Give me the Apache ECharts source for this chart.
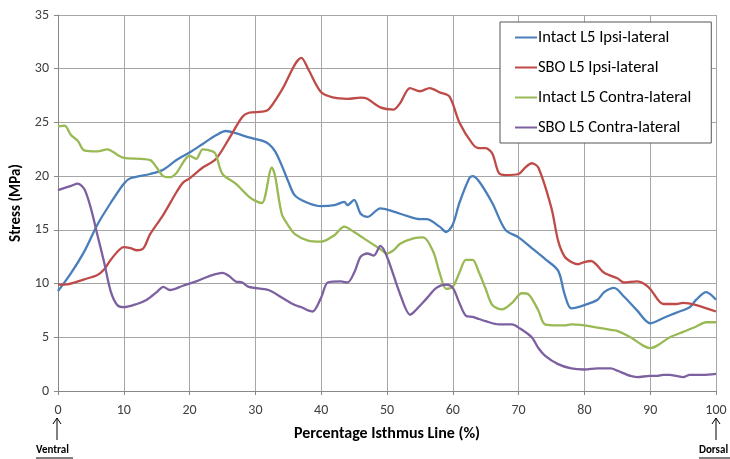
<!DOCTYPE html>
<html>
<head>
    <meta charset="utf-8">
    <title>Stress along isthmus line</title>
    <script src="https://cdn.jsdelivr.net/npm/echarts@6/dist/echarts.min.js"></script>
</head>
<body style="margin:0">
    <div id="c" style="width:730px;height:459px;"></div>
    <script>
        // percentage along isthmus line / stress (MPa)
        var intactIpsiX = [0, 2, 4, 6, 8, 10, 11, 14, 16, 18, 20, 22, 24, 25.5, 27, 29, 31, 32, 33, 34, 35, 36, 38, 40, 42, 43.5, 44, 45, 46, 47, 49, 51, 53, 55, 56, 58, 59, 60, 61, 62.5, 63, 64, 66, 68, 70, 72, 74, 76, 77, 78, 80, 82, 83, 84.5, 86, 88, 90, 92, 94, 96, 97, 98.5, 100];
        var intactIpsiY = [9.3, 11, 13, 15.5, 17.5, 19.3, 19.8, 20.2, 20.6, 21.5, 22.2, 23, 23.8, 24.2, 24, 23.6, 23.3, 23, 22.3, 21, 19.5, 18.2, 17.5, 17.2, 17.3, 17.6, 17.3, 17.8, 16.5, 16.2, 17, 16.7, 16.3, 16, 16, 15.3, 14.8, 15.5, 17.5, 19.8, 20, 19.5, 17.5, 15, 14.3, 13.3, 12.3, 11.2, 9, 7.7, 8, 8.5, 9.2, 9.6, 8.8, 7.5, 6.3, 6.8, 7.3, 7.8, 8.5, 9.2, 8.5];

        var sboIpsiX = [0, 1, 4, 6, 7, 8, 10, 11, 12, 13, 14, 16, 18, 19, 20, 22, 24, 26, 28, 29, 31, 32, 34, 37, 38, 40, 42, 44, 46, 47, 49, 51, 52, 53.5, 55, 56.5, 58, 59.5, 61, 63, 64, 65, 66, 67, 68, 70, 71, 72, 73, 75, 76, 77, 78, 79, 80, 81, 83, 85, 86, 88, 89, 90, 92, 94, 95, 97, 100];
        var sboIpsiY = [9.9, 9.9, 10.4, 10.8, 11.3, 12.2, 13.4, 13.3, 13.1, 13.3, 14.6, 16.4, 18.5, 19.4, 19.8, 20.8, 21.6, 23.5, 25.5, 25.9, 26, 26.2, 28, 31, 30, 27.8, 27.3, 27.2, 27.3, 27.2, 26.4, 26.2, 26.8, 28.2, 27.9, 28.2, 27.8, 27.4, 25, 23, 22.6, 22.6, 22.1, 20.3, 20.1, 20.2, 20.8, 21.2, 20.8, 17, 14, 12.5, 12, 11.8, 12, 12.1, 11, 10.5, 10.1, 10.2, 10, 9.5, 8.1, 8.1, 8.2, 8, 7.4];

        var intactContraX = [0, 1, 2, 3, 4, 6, 7.5, 9, 10, 14, 15, 16, 17, 18, 20, 21, 22, 23.5, 24, 25, 27, 29, 30, 31, 32.5, 33, 34, 35, 36, 38, 40, 42, 43.5, 45, 47, 49, 50, 51, 52, 54, 55.5, 57, 58, 59, 60, 61, 62, 63, 64, 65, 66, 67.5, 69, 70.5, 71.5, 73, 74, 76, 77, 78, 80, 82, 84, 85, 87, 89, 90, 91, 93, 95, 97, 98.5, 100];
        var intactContraY = [24.6, 24.7, 23.8, 23.3, 22.4, 22.3, 22.5, 22, 21.7, 21.5, 20.8, 20, 19.9, 20.3, 21.9, 21.6, 22.5, 22.3, 22, 20.2, 19.3, 18.1, 17.7, 17.5, 20.8, 20, 16.5, 15.4, 14.6, 14, 13.9, 14.5, 15.3, 14.8, 14, 13.2, 12.8, 13.1, 13.7, 14.2, 14.3, 13, 11, 9.5, 9.7, 11, 12.2, 12.2, 11, 9.5, 8, 7.6, 8.2, 9.1, 9, 7.5, 6.2, 6.1, 6.1, 6.2, 6.1, 5.9, 5.7, 5.6, 5, 4.2, 4, 4.2, 5, 5.5, 6, 6.4, 6.4];

        var sboContraX = [0, 2, 3, 4, 5, 6, 7, 8, 9, 10, 12, 13.5, 15, 16, 17, 19, 21, 23, 25, 26, 27, 28, 29, 32, 34, 36, 37, 38, 38.7, 40, 41, 43, 44, 45, 46, 47, 48, 49, 50, 52, 53.5, 54, 56, 57.5, 59, 60, 61, 62, 63, 64, 65, 67, 69, 70, 72, 73, 74, 76, 78, 80, 82, 84, 85, 87, 88, 90, 91, 92, 93, 94, 95, 96, 97, 98, 100];
        var sboContraY = [18.7, 19.1, 19.3, 18.8, 17, 14.5, 12, 9.3, 8, 7.8, 8.1, 8.5, 9.2, 9.7, 9.4, 9.8, 10.2, 10.7, 11, 10.7, 10.2, 10.1, 9.7, 9.4, 8.7, 8, 7.8, 7.5, 7.4, 8.7, 10.1, 10.2, 10.1, 11, 12.5, 12.8, 12.6, 13.5, 12.5, 9, 7.1, 7.3, 8.6, 9.6, 9.9, 9.6, 8.2, 7, 6.9, 6.7, 6.5, 6.2, 6.2, 5.9, 5, 4, 3.3, 2.5, 2.1, 2, 2.1, 2.1, 1.9, 1.4, 1.3, 1.4, 1.4, 1.5, 1.5, 1.4, 1.3, 1.5, 1.5, 1.5, 1.6];

        var seriesNames = ['Intact L5 Ipsi-lateral', 'SBO L5 Ipsi-lateral', 'Intact L5 Contra-lateral', 'SBO L5 Contra-lateral'];
        var seriesColors = ['#4a7ebb', '#be4b48', '#98b954', '#7d60a0'];

        function pairs(xs, ys) {
            return xs.map(function (x, i) { return [x, ys[i]]; });
        }
        var allData = [
            pairs(intactIpsiX, intactIpsiY),
            pairs(sboIpsiX, sboIpsiY),
            pairs(intactContraX, intactContraY),
            pairs(sboContraX, sboContraY)
        ];

        // little up-arrow under an end of the x axis
        function arrow(x) {
            return [
                { type: 'line', shape: { x1: x, y1: 418, x2: x, y2: 440 }, style: { stroke: '#000', lineWidth: 1 } },
                { type: 'polyline', shape: { points: [[x - 4, 424], [x, 418], [x + 4, 424]] }, style: { stroke: '#000', lineWidth: 1, fill: null } }
            ];
        }

        var myChart = echarts.init(document.getElementById('c'));
        var font = 'Carlito, Lato, sans-serif';
        var option = {
            animation: false,
            color: seriesColors,
            grid: { left: 58, right: 14, top: 15, bottom: 68, containLabel: false },
            legend: {
                orient: 'vertical',
                left: 500, top: 22,
                padding: [7, 20, 7, 15],
                itemGap: 13,
                itemWidth: 22,
                itemHeight: 2,
                icon: 'rect',
                borderColor: '#555',
                borderWidth: 1,
                backgroundColor: '#fff',
                textStyle: { fontSize: 16.5, lineHeight: 16, color: '#000', fontFamily: font, padding: [0, 0, 0, -4] },
                data: seriesNames
            },
            xAxis: {
                type: 'value',
                min: 0, max: 100, interval: 10,
                name: 'Percentage Isthmus Line (%)',
                nameLocation: 'middle',
                nameGap: 35,
                nameTextStyle: { fontSize: 16, fontWeight: 'bold', color: '#000', fontFamily: font },
                axisLine: { lineStyle: { color: '#888' } },
                axisTick: { show: true, length: 4, lineStyle: { color: '#888' } },
                axisLabel: { fontSize: 14, color: '#404040', margin: 12, fontFamily: font },
                splitLine: { lineStyle: { color: '#a6a6a6' } }
            },
            yAxis: {
                type: 'value',
                min: 0, max: 35, interval: 5,
                name: 'Stress (MPa)',
                nameLocation: 'middle',
                nameGap: 33,
                nameTextStyle: { fontSize: 15, fontWeight: 'bold', color: '#000', fontFamily: font },
                axisLine: { show: true, lineStyle: { color: '#888' } },
                axisTick: { show: true, length: 4, lineStyle: { color: '#888' } },
                axisLabel: { fontSize: 14, color: '#404040', margin: 9, fontFamily: font },
                splitLine: { lineStyle: { color: '#a6a6a6' } }
            },
            series: seriesNames.map(function (n, i) {
                return {
                    name: n,
                    type: 'line',
                    data: allData[i],
                    smooth: 0.3,
                    showSymbol: false,
                    lineStyle: { width: 2.3 }
                };
            }),
            graphic: arrow(57).concat(arrow(716)).concat([
                { type: 'text', left: 36, top: 445, style: { text: 'Ventral', fontSize: 11, fontWeight: 'bold', fill: '#000', fontFamily: font } },
                { type: 'line', shape: { x1: 36, y1: 458, x2: 73, y2: 458 }, style: { stroke: '#000', lineWidth: 1 } },
                { type: 'text', left: 699, top: 445, style: { text: 'Dorsal', fontSize: 11, fontWeight: 'bold', fill: '#000', fontFamily: font } },
                { type: 'line', shape: { x1: 699, y1: 458, x2: 730, y2: 458 }, style: { stroke: '#000', lineWidth: 1 } }
            ])
        };
        myChart.setOption(option);
    </script>
</body>
</html>
